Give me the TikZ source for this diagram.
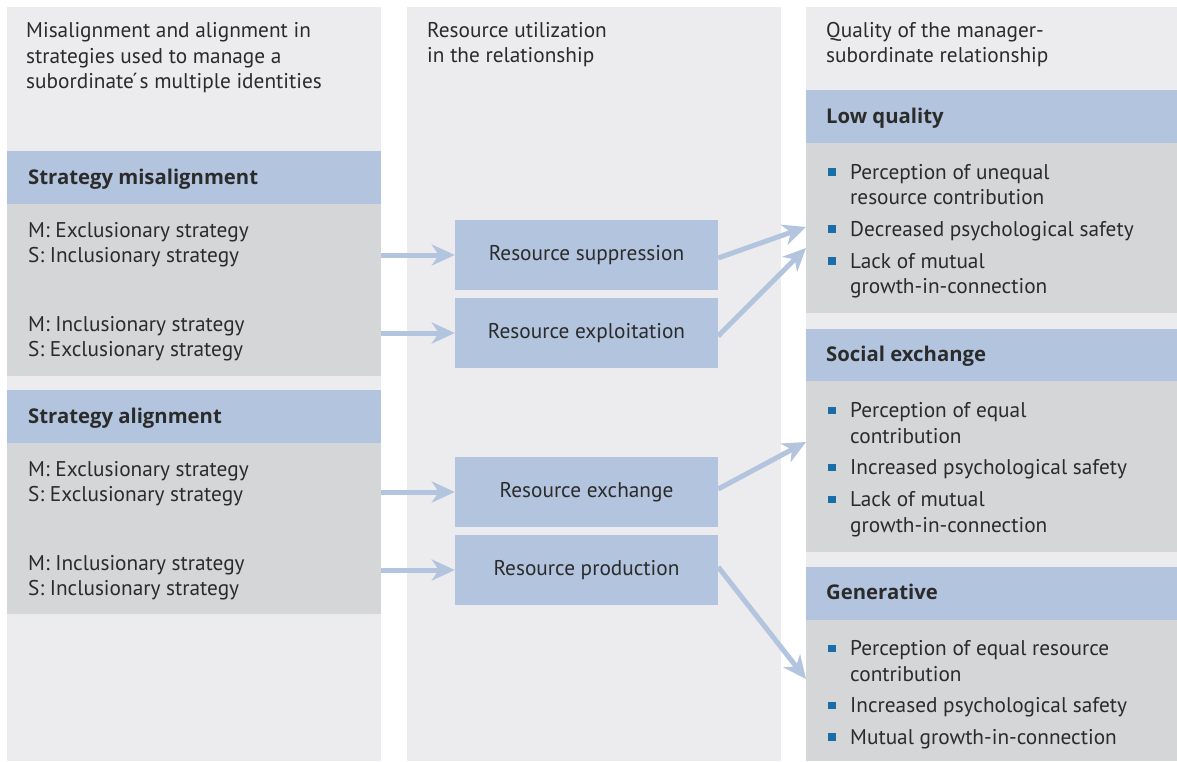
\documentclass[tikz,border=0pt]{standalone}
\usepackage{fontspec}
\setmainfont{PT Sans}
\newfontfamily\headfont{Open Sans}
\usetikzlibrary{arrows.meta}
\definecolor{colbg}{HTML}{ECECEE}
\definecolor{barblue}{HTML}{B3C4DE}
\definecolor{bodygrey}{HTML}{D5D6D8}
\definecolor{bulletblue}{HTML}{1A6DA6}
\definecolor{txtcol}{HTML}{2B2B2B}
\begin{document}
\begin{tikzpicture}[x=1pt,y=-1pt,
  colbox/.style={fill=colbg, draw=none, inner sep=0pt, minimum width=#1, minimum height=754pt, anchor=north west},
  barbox/.style={fill=barblue, draw=none, inner sep=0pt, minimum width=#1, minimum height=53pt, anchor=north west},
  bodybox/.style={fill=bodygrey, draw=none, inner sep=0pt, minimum width=#1, anchor=north west},
  resbox/.style={fill=barblue, draw=none, inner sep=0pt, minimum width=263pt, minimum height=70pt, text=txtcol, font=\fontsize{21.3}{25.5}\selectfont},
  txt/.style={text=txtcol, inner sep=0pt, align=left, anchor=base west, font=\fontsize{21.3}{25.5}\selectfont},
  headtxt/.style={text=txtcol, inner sep=0pt, anchor=base west, font=\headfont\fontsize{20.3}{25.5}\selectfont\bfseries},
  arr/.style={draw=barblue, line width=5pt, -{Stealth[length=23pt,width=21pt,inset=7pt]}},
  bul/.style={fill=bulletblue}
]
\fill[white] (0,0) rectangle (1177,761);
\useasboundingbox (0,0) rectangle (1177,761);

% columns
\node[colbox=374pt] (lcol) at (7,7) {};
\node[colbox=374pt] (mcol) at (407,7) {};
\node[colbox=371pt] (rcol) at (806,7) {};

% column headers (anchor = baseline of last line)
\node[txt] (lhead) at (26,88.5) {Misalignment and alignment in\\strategies used to manage a\\subordinate\'{}s multiple identities};
\node[txt] (mhead) at (427,62.5) {Resource utilization\\in the relationship};
\node[txt] (rhead) at (826,62.5) {Quality of the manager-\\subordinate relationship};

% left column
\node[barbox=374pt] (misbar) at (7,151) {};
\node[headtxt] (mistxt) at (28,184.5) {Strategy misalignment};
\node[bodybox=374pt, minimum height=172pt] (misbody) at (7,204) {};
\node[txt] (mis1) at (28,262.5) {M: Exclusionary strategy\\S: Inclusionary strategy};
\node[txt] (mis2) at (28,356.5) {M: Inclusionary strategy\\S: Exclusionary strategy};

\node[barbox=374pt] (albar) at (7,390) {};
\node[headtxt] (altxt) at (28,423.5) {Strategy alignment};
\node[bodybox=374pt, minimum height=171pt] (albody) at (7,443) {};
\node[txt] (al1) at (28,501.5) {M: Exclusionary strategy\\S: Exclusionary strategy};
\node[txt] (al2) at (28,595.5) {M: Inclusionary strategy\\S: Inclusionary strategy};

% right column
\node[barbox=371pt] (lowbar) at (806,90) {};
\node[headtxt] (lowtxt) at (826,123) {Low quality};
\node[bodybox=371pt, minimum height=170pt] (lowbody) at (806,143) {};

\node[barbox=371pt] (socbar) at (806,329) {};
\node[headtxt] (soctxt) at (826,361.5) {Social exchange};
\node[bodybox=371pt, minimum height=171pt] (socbody) at (806,381) {};

\node[barbox=371pt] (genbar) at (806,567) {};
\node[headtxt] (gentxt) at (826,599.5) {Generative};
\node[bodybox=371pt, minimum height=141pt] (genbody) at (806,620) {};

% bullet squares
\foreach \y in {179,236,268, 417.5,474.5,506.5, 655.5,712.5,744}
  \fill[bul] (828,\y-11) rectangle (835.5,\y-3.5);
% bullet texts (anchor = baseline of last line)
\node[txt] (low1) at (850,204.5) {Perception of unequal\\resource contribution};
\node[txt] (low2) at (850,236) {Decreased psychological safety};
\node[txt] (low3) at (850,293.5) {Lack of mutual\\growth-in-connection};
\node[txt] (soc1) at (850,443) {Perception of equal\\contribution};
\node[txt] (soc2) at (850,474.5) {Increased psychological safety};
\node[txt] (soc3) at (850,532) {Lack of mutual\\growth-in-connection};
\node[txt] (gen1) at (850,681) {Perception of equal resource\\contribution};
\node[txt] (gen2) at (850,712.5) {Increased psychological safety};
\node[txt] (gen3) at (850,744) {Mutual growth-in-connection};

% targets on right column edge
\coordinate (t1) at (806,227);
\coordinate (t2) at (806,248);
\coordinate (t3) at (806,442);
\coordinate (t4) at (806,679);

% middle boxes
\node[resbox] (supp) at (586.5,255) {Resource suppression};
\node[resbox] (expl) at (586.5,333) {Resource exploitation};
\node[resbox] (exch) at (586.5,492) {Resource exchange};
\node[resbox] (prod) at (586.5,570) {Resource production};

% arrows
\draw[arr] (supp.west -| lcol.east) -- (supp.west);
\draw[arr] (expl.west -| lcol.east) -- (expl.west);
\draw[arr] (exch.west -| lcol.east) -- (exch.west);
\draw[arr] (prod.west -| lcol.east) -- (prod.west);
\draw[arr] ([yshift=-3pt]supp.east) -- (t1);
\draw[arr] ([yshift=-3pt]expl.east) -- (t2);
\draw[arr] ([yshift=3pt]exch.east) -- (t3);
\draw[arr] ([yshift=3pt]prod.east) -- (t4);
\end{tikzpicture}
\end{document}
